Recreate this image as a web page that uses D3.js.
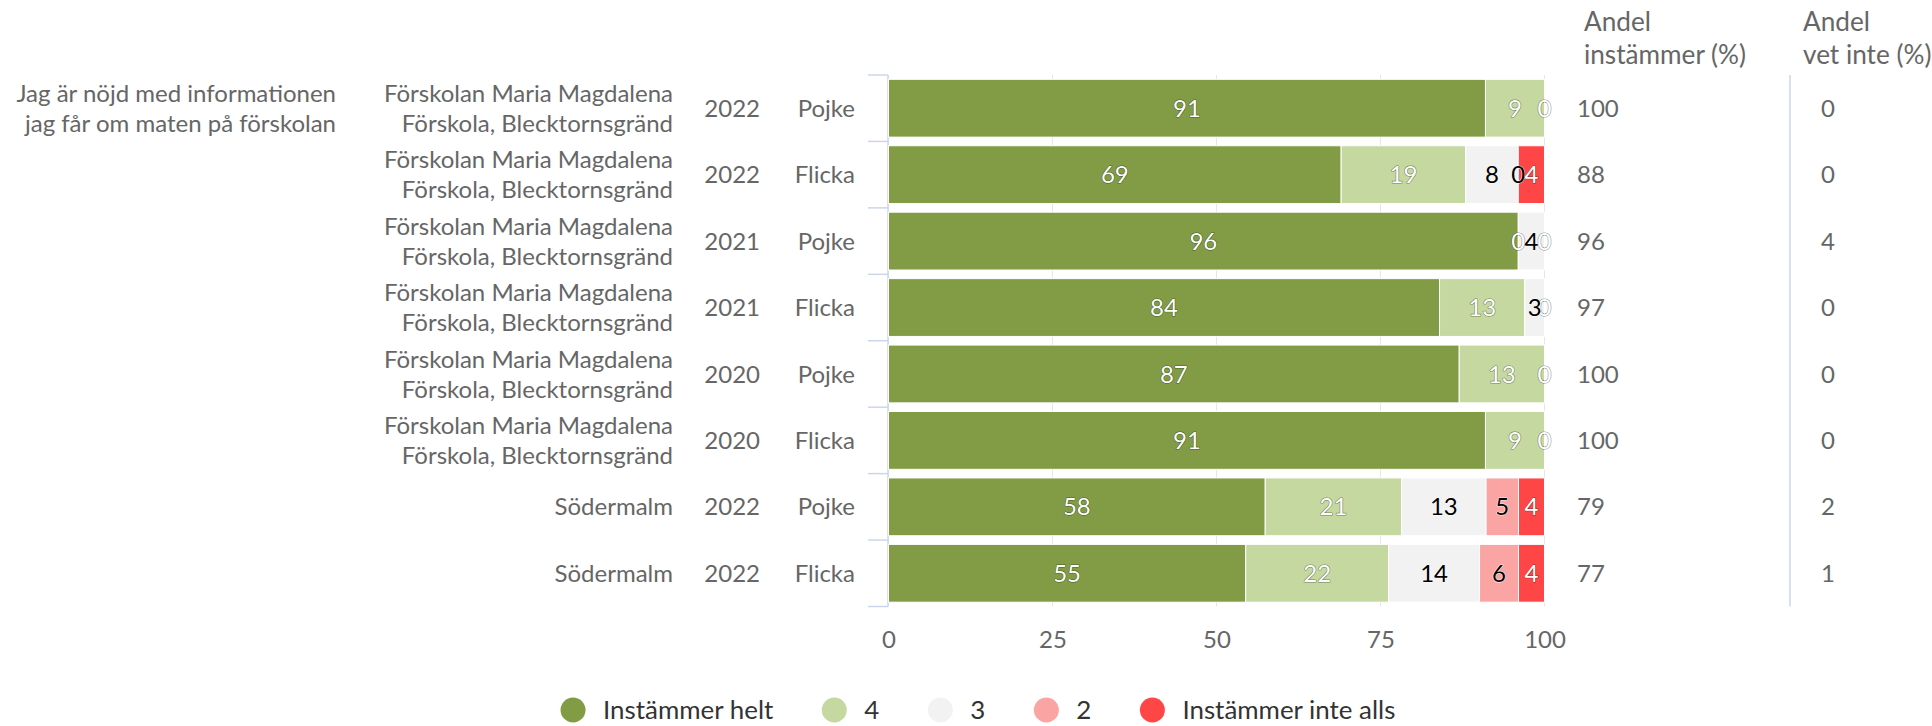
<!DOCTYPE html>
<html><head><meta charset="utf-8">
<script src="https://cdn.jsdelivr.net/npm/d3@7"></script>
<style>
html,body{margin:0;padding:0;background:#fff;}
svg text{font-family:Lato,"Noto Sans",sans-serif;}
</style></head>
<body>
<svg id="chart" width="1932" height="726"></svg>
<script>
// ---------- data ----------
const questionLines = ["Jag är nöjd med informationen", "jag får om maten på förskolan"];
const unitLabels = [
  ["Förskolan Maria Magdalena", "Förskola, Blecktornsgränd"],
  ["Förskolan Maria Magdalena", "Förskola, Blecktornsgränd"],
  ["Förskolan Maria Magdalena", "Förskola, Blecktornsgränd"],
  ["Förskolan Maria Magdalena", "Förskola, Blecktornsgränd"],
  ["Förskolan Maria Magdalena", "Förskola, Blecktornsgränd"],
  ["Förskolan Maria Magdalena", "Förskola, Blecktornsgränd"],
  ["Södermalm"],
  ["Södermalm"]
];
const years   = ["2022", "2022", "2021", "2021", "2020", "2020", "2022", "2022"];
const genders = ["Pojke", "Flicka", "Pojke", "Flicka", "Pojke", "Flicka", "Pojke", "Flicka"];
const seriesNames = ["Instämmer helt", "4", "3", "2", "Instämmer inte alls"];
const instammerHelt    = [91, 69, 96, 84, 87, 91, 58, 55];
const svar4            = [9, 19, 0, 13, 13, 9, 21, 22];
const svar3            = [0, 8, 4, 3, 0, 0, 13, 14];
const svar2            = [0, 0, 0, 0, 0, 0, 5, 6];
const instammerInteAlls= [0, 4, 0, 0, 0, 0, 4, 4];
const andelInstammer = [100, 88, 96, 97, 100, 100, 79, 77];
const andelVetInte   = [0, 0, 4, 0, 0, 0, 2, 1];
const xTickValues = [0, 25, 50, 75, 100];
const colHeader1 = ["Andel", "instämmer (%)"];
const colHeader2 = ["Andel", "vet inte (%)"];

// ---------- styles ----------
const palette = ["#819c45", "#c5d89f", "#f2f2f2", "#fba4a4", "#ff4646"];
const labelFill = ["#ffffff", "#ffffff", "#000000", "#000000", "#ffffff"];
const textColor = "#666666";
const axisColor = "#ccd6eb";
const gridColor = "#e6e6e6";

const svg = d3.select("#chart");

// calibrate font size so the long question line matches the reference width
const probe = svg.append("text").attr("font-size", 100).text(questionLines[0]);
const fs = Math.round(100 * 319 / probe.node().getComputedTextLength() * 2) / 2;
probe.remove();

const seriesArrays = [instammerHelt, svar4, svar3, svar2, instammerInteAlls];
const rows = years.map((y, i) => {
  const o = { i };
  seriesNames.forEach((s, k) => o[s] = seriesArrays[k][i]);
  return o;
});
const stacked = d3.stack().keys(seriesNames).offset(d3.stackOffsetExpand)(rows);

const x = d3.scaleLinear().domain([0, 1]).range([888.5, 1544.5]);
const xTick = d3.scaleLinear().domain([0, 100]).range(x.range());
const y = d3.scaleBand().domain(d3.range(rows.length)).range([75, 606.5])
  .paddingInner(0.13).paddingOuter(0.065);
const step = y.step();

// gridlines
const gx = svg.append("g");
gx.selectAll("line").data(xTickValues).join("line")
  .attr("x1", d => xTick(d)).attr("x2", d => xTick(d))
  .attr("y1", y.range()[0]).attr("y2", y.range()[1])
  .attr("stroke", gridColor).attr("stroke-width", 1);

// x axis labels via d3 axis
const xAxis = svg.append("g").attr("transform", `translate(0,${y.range()[1]})`)
  .call(d3.axisBottom(xTick).tickValues(xTickValues).tickSize(0).tickPadding(24).tickFormat(d3.format("d")));
xAxis.select(".domain").remove();
xAxis.selectAll("text").attr("font-size", fs).attr("fill", textColor).attr("font-family", "Lato");

// category axis line + ticks
svg.append("line").attr("x1", 888).attr("x2", 888)
  .attr("y1", y.range()[0]).attr("y2", y.range()[1]).attr("stroke", axisColor).attr("stroke-width", 1.5);
const bounds = d3.range(rows.length + 1).map(k => y.range()[0] + k * step);
svg.append("g").selectAll("line").data(bounds).join("line")
  .attr("x1", 868).attr("x2", 888).attr("y1", d => d).attr("y2", d => d)
  .attr("stroke", axisColor).attr("stroke-width", 1.5);

// separator line right
svg.append("line").attr("x1", 1790).attr("x2", 1790)
  .attr("y1", y.range()[0]).attr("y2", y.range()[1]).attr("stroke", axisColor).attr("stroke-width", 1.5);

// bars
const bars = svg.append("g");
stacked.forEach((layer, k) => {
  bars.append("g").attr("fill", palette[k])
    .selectAll("rect").data(layer.filter(d => d[1] - d[0] > 0)).join("rect")
    .attr("x", d => x(d[0])).attr("width", d => x(d[1]) - x(d[0]))
    .attr("y", d => y(d.data.i)).attr("height", y.bandwidth())
    .attr("stroke", "#fff").attr("stroke-width", 1);
});

// data labels with overlap hiding (later series take priority)
const labelG = svg.append("g");
const shown = [];
for (let k = stacked.length - 1; k >= 0; k--) {
  stacked[k].forEach((d, i) => {
    const val = seriesArrays[k][i];
    const cx = x((d[0] + d[1]) / 2);
    const cy = y(i) + y.bandwidth() / 2;
    const t = labelG.append("text").text(val)
      .attr("x", cx).attr("y", cy).attr("dy", "0.36em")
      .attr("text-anchor", "middle").attr("font-size", fs)
      .attr("fill", labelFill[k])
      .attr("stroke", labelFill[k] === "#ffffff" ? "rgba(0,0,0,0.45)" : "rgba(255,255,255,0.8)")
      .attr("stroke-width", 1.2).attr("paint-order", "stroke").attr("stroke-linejoin", "round");
    const w = t.node().getComputedTextLength();
    const box = { row: i, x0: cx - w / 2, x1: cx + w / 2 };
    const clash = shown.some(b => b.row === i && Math.min(b.x1, box.x1) - Math.max(b.x0, box.x0) > 6);
    if (clash) t.remove(); else shown.push(box);
  });
}

// left labels
const lbl = svg.append("g").attr("fill", textColor).attr("font-size", fs);
const lineGap = 30;
function multiLine(g, lines, xPos, cy, anchor) {
  const n = lines.length;
  lines.forEach((s, j) => {
    g.append("text").attr("x", xPos).attr("y", cy + (j - (n - 1) / 2) * lineGap)
      .attr("dy", "0.36em").attr("text-anchor", anchor).text(s);
  });
}
multiLine(lbl, questionLines, 336, y(0) + y.bandwidth() / 2, "end");
rows.forEach((r, i) => {
  const cy = y(i) + y.bandwidth() / 2;
  multiLine(lbl, unitLabels[i], 673, cy, "end");
  lbl.append("text").attr("x", 760).attr("y", cy).attr("dy", "0.36em").attr("text-anchor", "end").text(years[i]);
  lbl.append("text").attr("x", 855).attr("y", cy).attr("dy", "0.36em").attr("text-anchor", "end").text(genders[i]);
  lbl.append("text").attr("x", 1577).attr("y", cy).attr("dy", "0.36em").attr("text-anchor", "start").text(andelInstammer[i]);
  lbl.append("text").attr("x", 1828).attr("y", cy).attr("dy", "0.36em").attr("text-anchor", "middle").text(andelVetInte[i]);
});

// column headers
const hdr = svg.append("g").attr("fill", textColor).attr("font-size", fs * 1.09);
colHeader1.forEach((s, j) => hdr.append("text").attr("x", 1584).attr("y", 31 + j * 33).text(s));
colHeader2.forEach((s, j) => hdr.append("text").attr("x", 1803).attr("y", 31 + j * 33).text(s));

// legend
const leg = svg.append("g").attr("font-size", fs * 1.08).attr("fill", "#333333");
const r = 12.5, textOff = 30, itemGap = 61, legY = 710;
let cursor = 0;
seriesNames.forEach((s, k) => {
  const g = leg.append("g");
  g.append("circle").attr("cx", cursor + r).attr("cy", legY).attr("r", r).attr("fill", palette[k]);
  const t = g.append("text").attr("x", cursor + r + textOff).attr("y", legY).attr("dy", "0.36em").text(s);
  const w = t.node().getComputedTextLength();
  cursor = cursor + r + textOff + w + itemGap - r;
});
const totalW = cursor - itemGap + r;
leg.attr("transform", `translate(${978 - totalW / 2},0)`);
</script>
</body></html>
